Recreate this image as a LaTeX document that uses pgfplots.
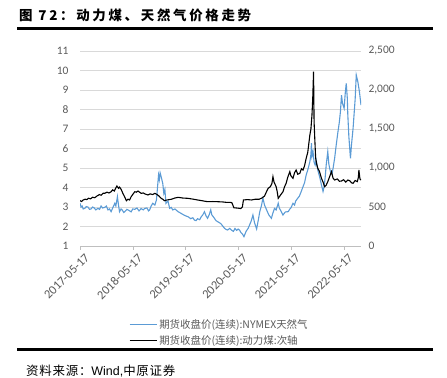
\documentclass[border=0pt]{standalone}
\usepackage{pgfplots}
\pgfplotsset{compat=1.18}
\usepackage{fontspec}
\setmainfont{Carlito}
\newfontfamily\cjk{Noto Sans CJK SC}
\newfontfamily\cjkt[LetterSpace=20]{Noto Sans CJK SC}
\newfontfamily\cjks[LetterSpace=6]{Noto Sans CJK SC}
\newfontfamily\lsans{Liberation Sans}
\definecolor{gasblue}{HTML}{5B9BD5}
\definecolor{ticktext}{HTML}{595959}
\definecolor{gridc}{HTML}{D9D9D9}
\definecolor{axisc}{HTML}{BFBFBF}

% t = years since 2017-05-17
\pgfplotstableread{
t v
0.00 3.19
0.02 3.00
0.04 3.05
0.06 2.90
0.09 2.93
0.12 3.02
0.15 3.00
0.18 2.88
0.21 2.90
0.24 3.00
0.27 2.95
0.30 2.85
0.34 2.93
0.37 2.88
0.40 3.05
0.43 2.95
0.47 2.98
0.50 3.05
0.53 2.85
0.56 2.90
0.59 2.76
0.62 2.95
0.66 3.19
0.68 3.05
0.71 3.53
0.73 3.10
0.75 2.76
0.78 2.90
0.80 2.85
0.83 2.72
0.85 2.76
0.89 2.88
0.93 2.82
0.97 2.75
1.00 2.90
1.04 2.88
1.08 2.95
1.12 2.80
1.16 2.92
1.20 2.85
1.23 2.93
1.27 2.95
1.30 2.80
1.32 2.85
1.35 3.05
1.38 3.19
1.42 3.10
1.45 3.36
1.47 4.00
1.49 4.64
1.505 4.40
1.52 4.75
1.54 4.55
1.57 4.20
1.59 3.70
1.61 3.90
1.63 3.19
1.67 3.30
1.70 2.93
1.73 2.98
1.76 2.85
1.80 2.90
1.86 2.76
1.90 2.70
1.95 2.62
2.00 2.55
2.05 2.50
2.10 2.40
2.14 2.45
2.17 2.33
2.20 2.30
2.23 2.40
2.27 2.35
2.30 2.50
2.33 2.60
2.36 2.76
2.39 2.55
2.42 2.42
2.45 2.60
2.48 2.85
2.50 2.60
2.55 2.42
2.58 2.30
2.61 2.25
2.64 2.20
2.67 2.15
2.70 2.05
2.74 1.91
2.77 1.85
2.80 1.82
2.84 1.90
2.87 1.82
2.91 1.75
2.94 1.90
2.97 1.80
3.00 1.87
3.03 1.80
3.05 1.70
3.08 1.62
3.11 1.48
3.15 1.75
3.19 1.91
3.22 2.10
3.25 2.30
3.28 2.59
3.31 2.20
3.35 1.87
3.38 2.30
3.41 2.76
3.44 3.05
3.47 3.45
3.50 3.10
3.54 2.85
3.58 2.60
3.63 2.42
3.66 2.70
3.69 2.93
3.72 2.85
3.76 3.19
3.78 2.95
3.81 2.80
3.85 2.59
3.88 2.70
3.90 2.75
3.95 2.76
3.98 2.90
4.00 2.95
4.04 3.19
4.07 3.10
4.09 3.30
4.13 3.45
4.16 3.55
4.19 3.75
4.23 4.04
4.26 4.25
4.29 4.64
4.32 4.90
4.36 5.32
4.38 5.70
4.39 6.27
4.40 5.60
4.42 5.84
4.44 5.30
4.46 5.15
4.48 5.40
4.51 4.90
4.55 4.50
4.58 4.13
4.61 3.80
4.63 4.04
4.65 4.50
4.67 5.15
4.70 5.84
4.72 5.20
4.75 4.81
4.78 4.70
4.80 4.98
4.83 5.50
4.86 6.18
4.89 6.80
4.92 7.37
4.94 7.90
4.96 8.74
4.98 8.30
5.01 8.06
5.03 8.80
5.05 9.34
5.07 8.60
5.08 7.72
5.10 6.60
5.13 5.50
5.15 6.20
5.18 7.04
5.20 7.80
5.22 8.57
5.24 9.77
5.27 9.43
5.30 8.91
5.33 8.23
}\gasdata

\pgfplotstableread{
t v
0.00 581
0.03 570
0.06 590
0.10 600
0.13 595
0.16 612
0.20 605
0.24 625
0.28 619
0.32 640
0.37 660
0.40 650
0.44 678
0.47 675
0.51 690
0.55 680
0.59 696
0.62 720
0.65 705
0.68 745
0.70 769
0.73 740
0.75 755
0.78 727
0.81 680
0.84 640
0.88 581
0.91 600
0.94 590
0.97 632
1.00 660
1.04 696
1.07 690
1.10 705
1.16 675
1.20 680
1.24 665
1.29 654
1.33 668
1.38 660
1.42 675
1.46 660
1.50 640
1.54 611
1.57 600
1.60 581
1.65 590
1.73 599
1.80 615
1.86 624
1.95 615
2.05 611
2.15 600
2.23 590
2.32 580
2.42 568
2.52 570
2.61 568
2.70 565
2.77 560
2.85 560
2.88 555
2.92 490
3.00 485
3.05 480
3.08 500
3.10 590
3.18 595
3.25 590
3.33 600
3.40 600
3.45 615
3.50 640
3.54 700
3.57 740
3.61 760
3.64 800
3.66 889
3.68 820
3.72 761
3.74 700
3.76 611
3.80 650
3.85 696
3.88 760
3.91 804
3.94 880
3.98 953
4.00 900
4.04 868
4.07 940
4.10 974
4.13 920
4.17 932
4.20 990
4.23 974
4.26 1030
4.29 1124
4.32 1200
4.36 1423
4.38 1500
4.40 1679
4.415 1900
4.43 2235
4.44 1594
4.455 1350
4.47 1124
4.49 1050
4.51 996
4.54 960
4.58 868
4.61 820
4.64 761
4.67 780
4.70 825
4.73 880
4.77 953
4.80 870
4.83 846
4.88 860
4.92 830
4.96 833
5.00 850
5.04 820
5.08 846
5.12 835
5.15 810
5.18 804
5.22 840
5.26 825
5.28 880
5.29 974
5.31 860
5.33 846
}\coaldata

\pgfplotsset{
  common/.style={
    at={(80bp,132bp)}, anchor=south west, scale only axis,
    width=281bp, height=195bp, xmin=0, xmax=5.33,
    /pgf/number format/assume math mode=true,
    every tick label/.append style={font=\fontsize{11.5}{13}\selectfont, text=ticktext},
    y axis line style={draw=none}, ytick style={draw=none},
    scaled y ticks=false,
  }
}

\begin{document}
\begin{tikzpicture}
\path[use as bounding box] (0,0) rectangle (447bp,378bp);
\node[anchor=west, inner sep=0] at (19bp,363bp) {\cjkt\bfseries\fontsize{13.5}{15}\selectfont 图 72：动力煤、天然气价格走势};
\draw[line width=2.6bp] (17bp,349.3bp) -- (433bp,349.3bp);
\draw[line width=2.3bp] (17bp,28.5bp) -- (433bp,28.5bp);
\node[anchor=west, inner sep=0] at (26bp,7bp) {\fontsize{12.5}{14}\selectfont{\cjks 资料来源：}{\lsans Wind,}{\cjks 中原证券}};

\begin{axis}[common,
  ymin=1, ymax=11, ytick={1,...,11},
  axis y line*=left, axis x line*=bottom,
  x axis line style={draw=axisc},
  xtick={0,...,5},
  xticklabels={2017-05-17,2018-05-17,2019-05-17,2020-05-17,2021-05-17,2022-05-17},
  x tick label style={rotate=45, anchor=north east, inner sep=1bp, yshift=-4bp, xshift=2bp,
    font=\fontsize{12.5}{14}\selectfont},
  xtick style={draw=axisc}, tick align=outside, major tick length=4bp,
  y tick label style={xshift=-4bp},
  ymajorgrids, grid style={draw=gridc, line width=0.9bp},
]
\addplot[gasblue, line width=1.1bp] table[x=t, y=v] {\gasdata};
\end{axis}

\begin{axis}[common,
  ymin=0, ymax=2500, ytick={0,500,...,2500},
  axis y line*=right, axis x line=none,
  y tick label style={xshift=4bp},
  legend style={at={(0.174,-0.364)}, anchor=north west, draw=none, fill=none,
    font=\cjk\fontsize{10.5}{12}\selectfont, text=ticktext, row sep=2bp, inner sep=0pt},
  legend cell align=left,
  legend image code/.code={\draw[#1] (0bp,0bp) -- (27bp,0bp);},
]
\addlegendimage{gasblue, line width=1.2bp}
\addlegendentry{期货收盘价(连续):NYMEX天然气}
\addplot[black, line width=1.1bp] table[x=t, y=v] {\coaldata};
\addlegendentry{期货收盘价(连续):动力煤:次轴}
\end{axis}
\end{tikzpicture}
\end{document}
